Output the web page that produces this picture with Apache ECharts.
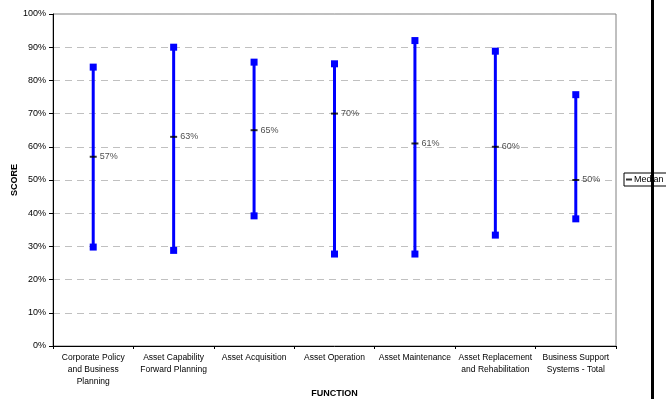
<!DOCTYPE html>
<html>
<head>
<meta charset="utf-8">
<script src="https://cdn.jsdelivr.net/npm/echarts@6/dist/echarts.min.js"></script>
<style>
  html, body { margin: 0; padding: 0; background: #fff; }
  #chart { width: 666px; height: 399px; }
</style>
</head>
<body>
<div id="chart"></div>
<script>
// Score range per business function: lowest, highest and median
var categories = [
  'Corporate Policy\nand Business\nPlanning',
  'Asset Capability\nForward Planning',
  'Asset Acquisition',
  'Asset Operation',
  'Asset Maintenance',
  'Asset Replacement\nand Rehabilitation',
  'Business Support\nSystems - Total'
];
var highScores = [84, 90, 85.5, 85, 92, 88.8, 75.7];
var lowScores = [29.8, 28.8, 39.2, 27.7, 27.7, 33.4, 38.3];
var medianScores = [57, 63, 65, 70, 61, 60, 50];

var FONT = 'Liberation Sans, Arial, sans-serif';

var rangeData = categories.map(function (c, i) {
  return [i, lowScores[i], highScores[i]];
});

var chart = echarts.init(document.getElementById('chart'), null, { renderer: 'canvas' });

chart.setOption({
  animation: false,
  backgroundColor: '#fff',
  textStyle: { fontFamily: FONT },
  grid: {
    left: 53, right: 50, top: 14, bottom: 53,
    containLabel: false,
    outerBoundsMode: 'none',
    show: true, borderColor: '#808080', borderWidth: 1
  },
  xAxis: {
    type: 'category',
    data: categories,
    boundaryGap: true,
    name: 'FUNCTION',
    nameLocation: 'middle',
    nameGap: 43,
    nameMoveOverlap: false,
    nameTextStyle: { fontFamily: FONT, fontWeight: 'bold', fontSize: 9, color: '#000' },
    axisLine: { lineStyle: { color: '#000', width: 1 } },
    axisTick: { show: true, length: 3, lineStyle: { color: '#000' } },
    axisLabel: { interval: 0, fontFamily: FONT, fontSize: 8.5, color: '#000', lineHeight: 12, margin: 6 },
    splitLine: { show: false }
  },
  yAxis: {
    type: 'value',
    min: 0, max: 100, interval: 10,
    name: 'SCORE',
    nameLocation: 'middle',
    nameGap: 34,
    nameRotate: 90,
    nameMoveOverlap: false,
    nameTextStyle: { fontFamily: FONT, fontWeight: 'bold', fontSize: 9, color: '#000' },
    axisLine: { show: true, lineStyle: { color: '#000', width: 1 } },
    axisTick: { show: true, length: 4, lineStyle: { color: '#000' } },
    axisLabel: { formatter: '{value}%', fontFamily: FONT, fontSize: 9, color: '#000', margin: 7 },
    splitLine: { show: true, lineStyle: { color: '#c0c0c0', type: [7, 5], width: 1 } }
  },
  legend: {
    data: [{ name: 'Median', icon: 'rect' }],
    left: 624, top: 173,
    orient: 'vertical',
    itemWidth: 6, itemHeight: 2, itemGap: 2,
    padding: [2, 4, 2, 2],
    borderColor: '#000', borderWidth: 1,
    textStyle: { fontFamily: FONT, fontSize: 9, color: '#000', padding: [0, 0, 0, -3] }
  },
  series: [
    {
      type: 'custom',
      name: 'Range',
      data: rangeData,
      z: 2,
      renderItem: function (params, api) {
        var low = api.coord([api.value(0), api.value(1)]);
        var high = api.coord([api.value(0), api.value(2)]);
        var s = 7;
        return {
          type: 'group',
          children: [
            { type: 'line', shape: { x1: low[0], y1: low[1], x2: high[0], y2: high[1] },
              style: { stroke: '#0000ff', lineWidth: 3 } },
            { type: 'rect', shape: { x: low[0] - s / 2, y: low[1] - s / 2, width: s, height: s },
              style: { fill: '#0000ff' } },
            { type: 'rect', shape: { x: high[0] - s / 2, y: high[1] - s / 2, width: s, height: s },
              style: { fill: '#0000ff' } }
          ]
        };
      }
    },
    {
      type: 'scatter',
      name: 'Median',
      data: medianScores,
      symbol: 'rect',
      symbolSize: [7, 2],
      itemStyle: { color: '#000' },
      z: 3,
      label: {
        show: true, position: 'right', distance: 3,
        formatter: function (p) { return p.value + '%'; },
        fontFamily: FONT, fontSize: 9, color: '#222'
      }
    }
  ],
  graphic: [
    { type: 'rect', shape: { x: 651, y: 0, width: 3, height: 399 },
      style: { fill: '#000' }, z: 100 }
  ]
});
</script>
</body>
</html>
